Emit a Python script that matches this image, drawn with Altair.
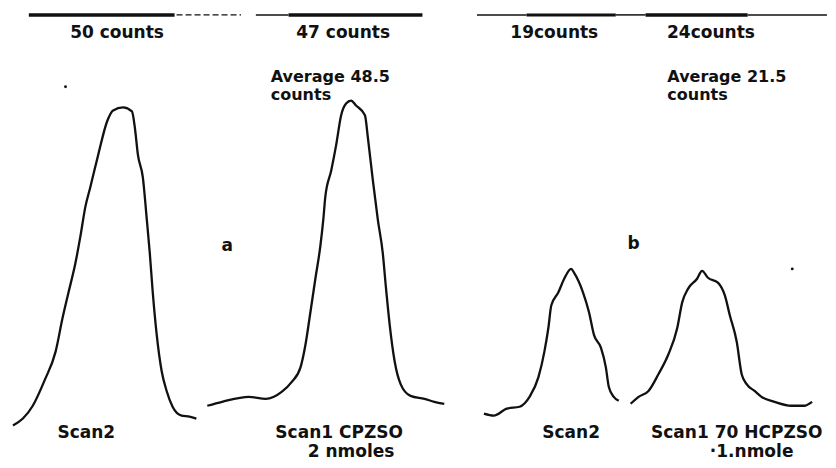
import altair as alt
import pandas as pd

# Curve traces (pixel-space coordinates)
scan2a_x = [12, 22, 32, 44, 55, 62, 68, 75, 80, 85, 90, 98, 107, 113, 123, 132, 135, 138, 143, 147, 150, 153, 157, 162, 167, 173, 182, 190, 197]
scan2a_y = [432, 425, 412, 386, 357, 323, 297, 267, 240, 210, 190, 157, 123, 112, 109, 113, 130, 157, 180, 223, 257, 297, 340, 377, 397, 413, 422, 423, 425]

scan1a_x = [208, 223, 250, 267, 283, 293, 302, 307, 312, 317, 322, 325, 327, 333, 338, 343, 348, 353, 358, 367, 370, 375, 380, 385, 388, 392, 397, 403, 413, 427, 437, 447]
scan1a_y = [412, 408, 403, 405, 398, 388, 373, 350, 317, 283, 250, 223, 200, 173, 147, 117, 105, 102, 107, 117, 140, 183, 223, 257, 290, 330, 367, 390, 402, 405, 408, 410]

scan2b_x = [487, 497, 510, 523, 533, 542, 548, 552, 555, 562, 568, 575, 578, 587, 593, 598, 605, 610, 613, 618, 623]
scan2b_y = [420, 422, 415, 413, 403, 383, 357, 333, 310, 297, 283, 273, 277, 297, 317, 340, 353, 373, 393, 403, 407]

scan1b_x = [635, 643, 653, 663, 673, 682, 687, 693, 702, 707, 713, 723, 730, 735, 742, 747, 752, 760, 767, 780, 797, 810, 818]
scan1b_y = [410, 403, 397, 380, 360, 333, 307, 293, 283, 275, 282, 287, 300, 320, 347, 380, 390, 397, 403, 408, 412, 412, 408]

# Top baseline segments: x start, x end, y, stroke width
base_x1 = [28, 177, 257, 290, 480, 530, 620, 650, 753]
base_x2 = [175, 242, 290, 425, 530, 620, 650, 753, 833]
base_y = [15, 15, 15, 15, 15, 15, 15, 15, 15]
base_w = [3.5, 1.2, 1.5, 3.5, 1.5, 3, 1.5, 3.5, 1.5]
base_dash = ["solid", "dash", "solid", "solid", "solid", "solid", "solid", "solid", "solid"]

# Labels
lab_text = ["50 counts", "47 counts", "19counts", "24counts",
            "Scan2", "Scan1 CPZSO", "2 nmoles", "Scan2", "Scan1 70 HCPZSO", "·1.nmole",
            "a", "b"]
lab_x = [117, 345, 558, 716, 86, 341, 353, 575, 742, 757, 228, 638]
lab_y = [33, 33, 33, 33, 440, 440, 459, 440, 440, 459, 250, 248]

avg_text = ["Average 48.5", "counts", "Average 21.5", "counts"]
avg_x = [272, 272, 672, 672]
avg_y = [83, 101, 83, 101]

dot_x = [65, 798]
dot_y = [88, 273]

rows = []
for name, xs, ys in [("s2a", scan2a_x, scan2a_y), ("s1a", scan1a_x, scan1a_y),
                     ("s2b", scan2b_x, scan2b_y), ("s1b", scan1b_x, scan1b_y)]:
    for i, (x, y) in enumerate(zip(xs, ys)):
        rows.append({"curve": name, "x": x, "y": y, "o": i})
curves = pd.DataFrame(rows)

base = pd.DataFrame({"x": base_x1, "x2": base_x2, "y": base_y, "w": base_w, "d": base_dash})
labels = pd.DataFrame({"t": lab_text, "x": lab_x, "y": lab_y})
avgs = pd.DataFrame({"t": avg_text, "x": avg_x, "y": avg_y})
dots = pd.DataFrame({"x": dot_x, "y": dot_y})

xs = alt.Scale(domain=[8, 828], nice=False, zero=False)
ys = alt.Scale(domain=[460, 8], nice=False, zero=False)
X = lambda f="x": alt.X(f, type="quantitative", scale=xs, axis=None)
Y = lambda f="y": alt.Y(f, type="quantitative", scale=ys, axis=None)

ink = "#111111"
font = "DejaVu Sans"

lines = alt.Chart(curves).mark_line(color=ink, strokeWidth=2.3, interpolate="monotone").encode(
    x=X(), y=Y(), detail="curve:N", order="o:Q")

solid = base[base.d == "solid"]
dash = base[base.d == "dash"]
rules = alt.Chart(solid).mark_rule(color=ink).encode(
    x=X(), x2="x2:Q", y=Y(), strokeWidth=alt.StrokeWidth("w:Q", scale=None, legend=None))
rules_d = alt.Chart(dash).mark_rule(color=ink, strokeDash=[6, 3]).encode(
    x=X(), x2="x2:Q", y=Y(), strokeWidth=alt.StrokeWidth("w:Q", scale=None, legend=None))

txt = alt.Chart(labels).mark_text(font=font, fontSize=17, fontWeight="bold", color=ink,
                                  align="center", baseline="middle").encode(
    x=X(), y=Y(), text="t:N")
txt2 = alt.Chart(avgs).mark_text(font=font, fontSize=16, fontWeight="bold", color=ink,
                                 align="left", baseline="alphabetic").encode(
    x=X(), y=Y(), text="t:N")
pts = alt.Chart(dots).mark_point(filled=True, color=ink, size=8, opacity=1).encode(x=X(), y=Y())

chart = alt.layer(rules, rules_d, lines, txt, txt2, pts).properties(
    width=820, height=452, padding=0, background="white",
    autosize=alt.AutoSizeParams(type="fit", contains="padding"),
).configure_view(stroke=None)

chart.save("out.html", embed_options={"renderer": "svg", "actions": False})
